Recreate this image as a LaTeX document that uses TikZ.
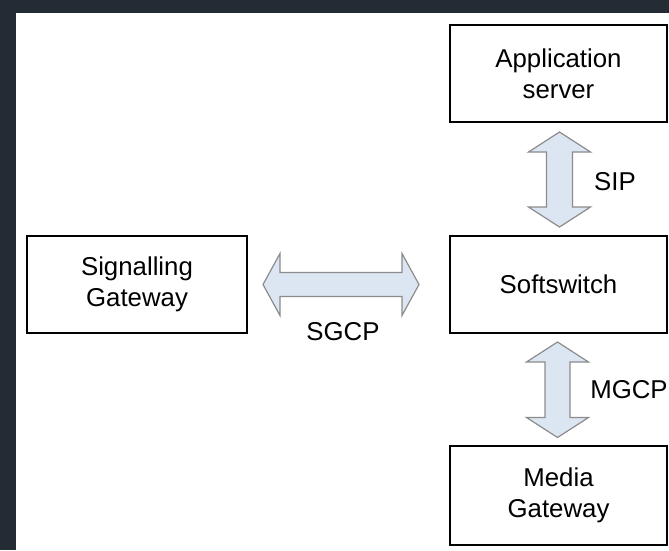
\documentclass[tikz,border=0pt]{standalone}
\usepackage{fontspec}
\setmainfont{Liberation Sans}
\usetikzlibrary{calc}
\definecolor{darkbg}{HTML}{232B35}
\definecolor{arrowfill}{HTML}{DCE6F2}
\definecolor{arrowline}{HTML}{8C8C8C}
\tikzset{
  box/.style={draw=black, line width=2pt, fill=white, align=center, inner sep=0pt,
              minimum width=217pt, minimum height=97pt,
              font=\fontsize{25.8}{31}\selectfont},
  lbl/.style={font=\fontsize{25.8}{31}\selectfont, inner sep=0pt},
  blockarrow/.style={draw=arrowline, fill=arrowfill, line width=1.2pt, line join=miter}
}
\begin{document}
\begin{tikzpicture}[x=1pt, y=-1pt]
\useasboundingbox (0,0) rectangle (669,550);
\fill[darkbg] (0,0) rectangle (669,550);
\fill[white] (16,13) rectangle (669,550);

\node[box] (as) at (558.5,73.5) {Application\\server};
\node[box] (ss) at (558.5,284.5) {Softswitch};
\node[box, minimum height=99pt] (mg) at (558.5,495) {Media\\Gateway};
\node[box, minimum width=220pt] (sg) at (137,284.5) {Signalling\\Gateway};

% SGCP (horizontal)
\coordinate (h1) at ($(sg.east)+(15,0)$);
\coordinate (h2) at ($(ss.west)+(-30,0)$);
\draw[blockarrow] let \p1=(h1), \p2=(h2) in
  (\x1,\y1) -- (\x1+17pt,\y1+31pt) -- (\x1+17pt,\y1+12pt) -- (\x2-17pt,\y1+12pt)
  -- (\x2-17pt,\y1+31pt) -- (\x2,\y1) -- (\x2-17pt,\y1-31pt) -- (\x2-17pt,\y1-12pt)
  -- (\x1+17pt,\y1-12pt) -- (\x1+17pt,\y1-31pt) -- cycle;
\node[lbl] (sgcp) at (343,332) {SGCP};

% SIP (vertical)
\coordinate (v1) at ($(as.south)+(1,9)$);
\coordinate (v2) at ($(ss.north)+(1,-8)$);
\draw[blockarrow] let \p1=(v1), \p2=(v2) in
  (\x1,\y1) -- (\x1+31pt,\y1-20pt) -- (\x1+13pt,\y1-20pt) -- (\x1+13pt,\y2+20pt)
  -- (\x1+31pt,\y2+20pt) -- (\x1,\y2) -- (\x1-31pt,\y2+20pt) -- (\x1-13pt,\y2+20pt)
  -- (\x1-13pt,\y1-20pt) -- (\x1-31pt,\y1-20pt) -- cycle;
\node[lbl] (sip) at (615,182) {SIP};

% MGCP (vertical)
\coordinate (m1) at ($(ss.south)+(-1,8)$);
\coordinate (m2) at ($(mg.north)+(-1,-7)$);
\draw[blockarrow] let \p1=(m1), \p2=(m2) in
  (\x1,\y1) -- (\x1+31pt,\y1-20pt) -- (\x1+12.5pt,\y1-20pt) -- (\x1+12.5pt,\y2+20pt)
  -- (\x1+31pt,\y2+20pt) -- (\x1,\y2) -- (\x1-31pt,\y2+20pt) -- (\x1-12.5pt,\y2+20pt)
  -- (\x1-12.5pt,\y1-20pt) -- (\x1-31pt,\y1-20pt) -- cycle;
\node[lbl] (mgcp) at (629,390) {MGCP};
\end{tikzpicture}
\end{document}
